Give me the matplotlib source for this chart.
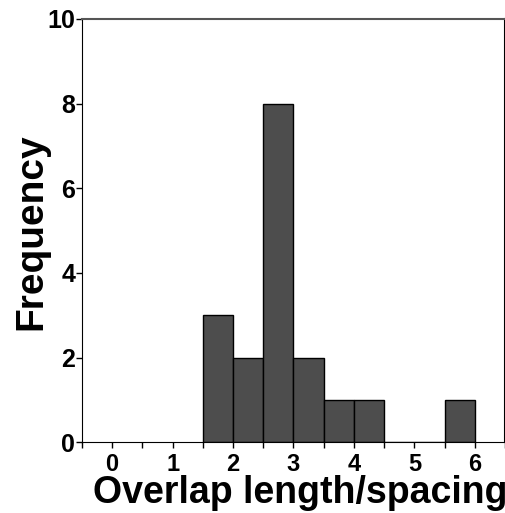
import matplotlib.pyplot as plt
from matplotlib.ticker import MultipleLocator

plt.rcParams['font.family'] = ['Liberation Sans', 'DejaVu Sans']
plt.rcParams['font.weight'] = 'bold'

# histogram bins (width 0.5) and counts
bin_edges = [1.5, 2.0, 2.5, 3.0, 3.5, 4.0, 4.5, 5.0, 5.5, 6.0]
counts = [3, 2, 8, 2, 1, 1, 0, 0, 1]
xticks = [0, 1, 2, 3, 4, 5, 6]
yticks = [0, 2, 4, 6, 8, 10]

fig = plt.figure(figsize=(5.06, 5.13), dpi=100)
ax = fig.add_axes([0.162, 0.138, 0.836, 0.825])

lefts = bin_edges[:-1]
widths = [b - a for a, b in zip(bin_edges[:-1], bin_edges[1:])]
ax.bar(lefts, counts, width=widths, align='edge', color='#4d4d4d',
       edgecolor='black', linewidth=1.0)

ax.set_xlim(-0.5, 6.5)
ax.set_ylim(0, 10)
ax.set_xticks(xticks)
ax.set_yticks(yticks)
ax.xaxis.set_minor_locator(MultipleLocator(0.5))
ax.tick_params(axis='both', which='both', direction='out', length=4, width=1)
ax.tick_params(axis='x', which='major', labelsize=17, pad=4)
ax.tick_params(axis='y', which='major', labelsize=18, pad=1)
for lab in ax.get_xticklabels() + ax.get_yticklabels():
    lab.set_fontweight('bold')

ax.spines['top'].set_color('#555555')
ax.spines['top'].set_linewidth(1.5)
for s in ['left', 'bottom', 'right']:
    ax.spines[s].set_color('black')
ax.spines['right'].set_linewidth(1.5)

fig.text(300 / 506, 1 - 503 / 513, 'Overlap length/spacing', fontsize=27,
         fontweight='bold', ha='center', va='baseline')
fig.text(49 / 506, 1 - 232 / 513, 'Frequency', fontsize=28, fontweight='bold',
         rotation=90, ha='right', va='center')

fig.savefig('out.png', dpi=100)
